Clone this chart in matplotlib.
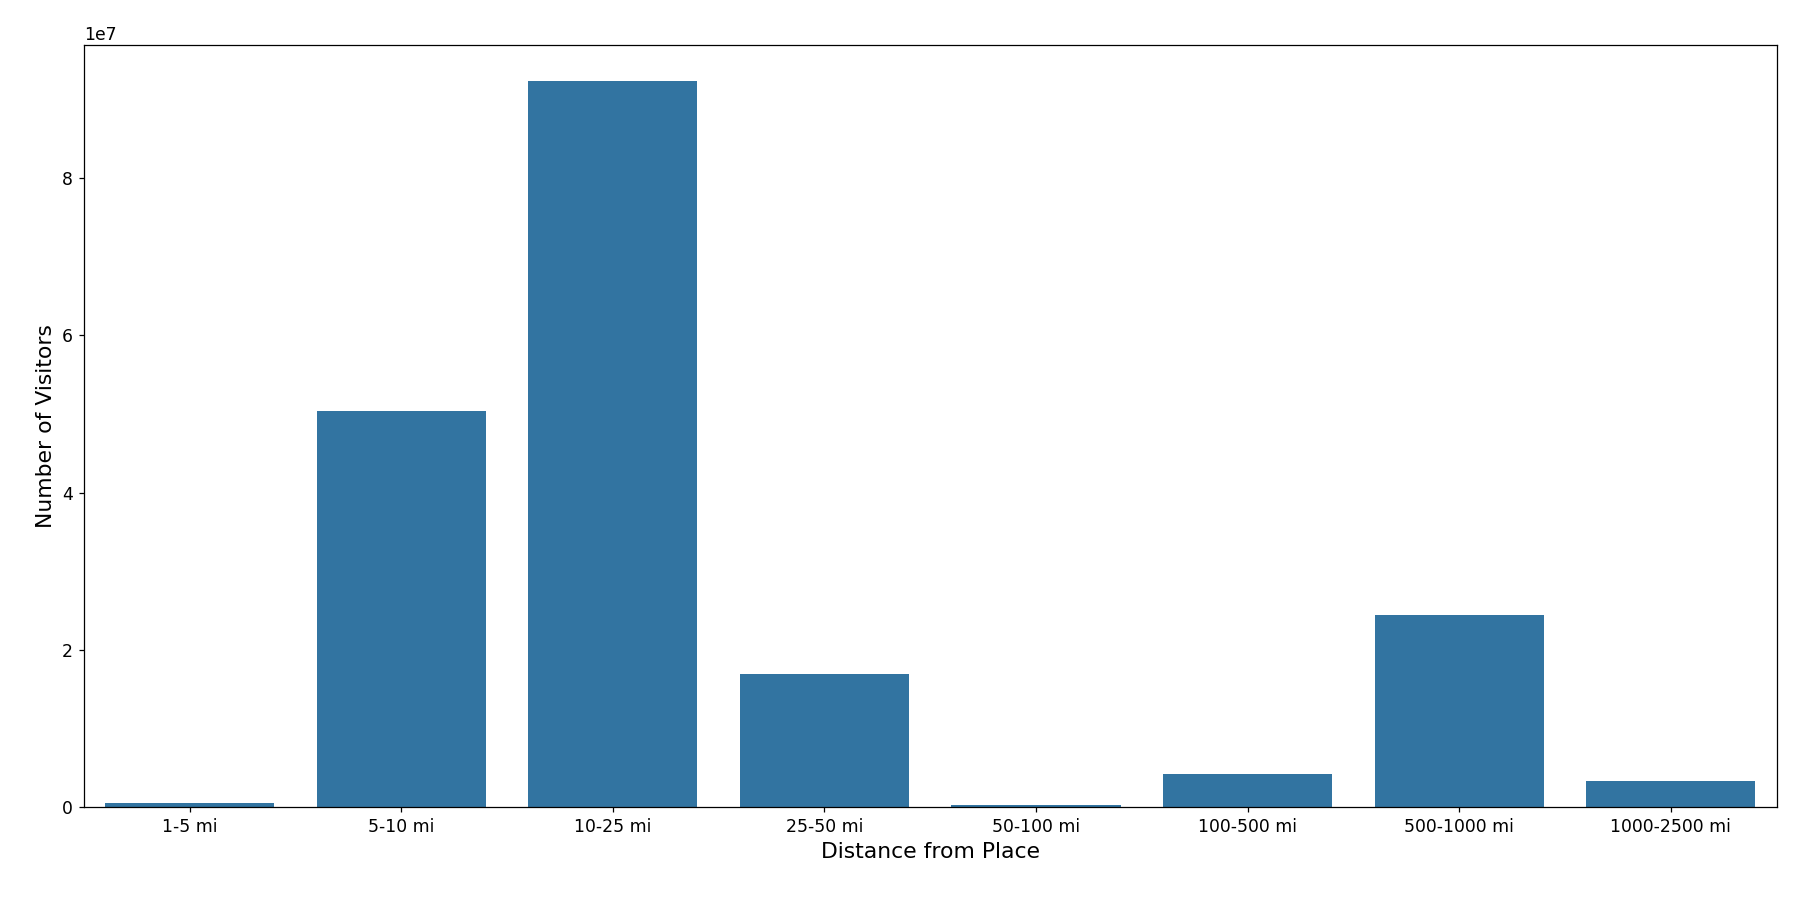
import matplotlib
matplotlib.use("Agg")
import matplotlib.pyplot as plt

categories = ["1-5 mi", "5-10 mi", "10-25 mi", "25-50 mi", "50-100 mi", "100-500 mi", "500-1000 mi", "1000-2500 mi"]
visitors = [6.0e5, 5.04e7, 9.23e7, 1.70e7, 3.0e5, 4.2e6, 2.44e7, 3.4e6]

fig, ax = plt.subplots(figsize=(16, 8), dpi=112.5)
x = range(len(categories))
ax.bar(x, visitors, width=0.8, color="#3274a1")
ax.set_xticks(list(x))
ax.set_xticklabels(categories, fontsize=11)
ax.tick_params(axis="y", labelsize=11)
ax.set_xlim(-0.5, len(categories) - 0.5)
ax.set_xlabel("Distance from Place", fontsize=14)
ax.set_ylabel("Number of Visitors", fontsize=14)
ax.yaxis.get_offset_text().set_fontsize(11)
fig.subplots_adjust(left=0.0466, right=0.987, top=0.950, bottom=0.103)
fig.savefig("out.png")
